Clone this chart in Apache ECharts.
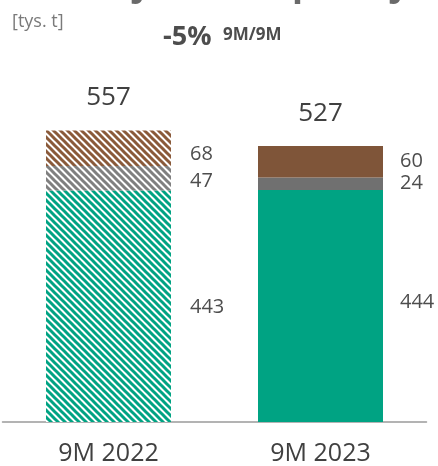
<!DOCTYPE html>
<html><head><meta charset="utf-8">
<script src="https://cdn.jsdelivr.net/npm/echarts@6/dist/echarts.min.js"></script>
<style>html,body{margin:0;padding:0;background:#fff}#c{width:438px;height:466px}</style>
</head><body><div id="c"></div>
<script>
const categories = ['9M 2022', '9M 2023'];
const mainVals = [443, 444];
const midVals = [47, 24];
const topVals = [68, 60];
const totals = [557, 527];
const unitLabel = '[tys. t]';
const changeText = '-5%';
const changeSub = '9M/9M';

function hatch(color) {
  const n = 7;
  const c = document.createElement('canvas');
  c.width = n; c.height = n;
  const g = c.getContext('2d');
  g.fillStyle = '#fff'; g.fillRect(0, 0, n, n);
  g.strokeStyle = color; g.lineWidth = 3;
  g.beginPath();
  g.moveTo(-2, -2); g.lineTo(n + 2, n + 2);
  g.moveTo(-2 - n, -2); g.lineTo(2, n + 2);
  g.moveTo(n - 2, -2); g.lineTo(2 * n + 2, n + 2);
  g.stroke();
  return { image: c, repeat: 'repeat' };
}
const GREEN = '#00a383', GRAY = '#707070', BROWN = '#7f5539';
const font = '"Open Sans", sans-serif';
const lbl = { show: true, position: 'right', color: '#4d4d4d', fontSize: 20, fontFamily: font };

function items(vals, hatchCol, solidCol, offs) {
  return vals.map((v, i) => ({
    value: v,
    itemStyle: { color: i === 0 ? hatch(hatchCol) : solidCol },
    label: { offset: offs[i], distance: i === 0 ? 19 : 17 }
  }));
}

const chart = echarts.init(document.getElementById('c'), null, { renderer: 'canvas' });
chart.setOption({
  animation: false,
  grid: { left: 2.5, right: 11.5, top: 108.5, bottom: 44 },
  xAxis: {
    type: 'category', data: categories,
    axisLine: { lineStyle: { color: '#9a9a9a', width: 1.5 } },
    axisTick: { show: false },
    axisLabel: { color: '#404040', fontSize: 25, fontFamily: font, margin: 19 }
  },
  yAxis: { type: 'value', min: 0, max: 600, show: false, splitLine: { show: false } },
  series: [
    { type: 'bar', stack: 's', barWidth: 125, data: items(mainVals, '#00a383', GREEN, [[0, 1], [0, -4]]), label: lbl },
    { type: 'bar', stack: 's', data: items(midVals, '#808080', GRAY, [[0, 3], [0, 0]]), label: lbl },
    { type: 'bar', stack: 's', data: items(topVals, '#8a5a3a', BROWN, [[0, 6], [0, 0]]), label: lbl },
    { type: 'bar', stack: 's', data: [0, 0], itemStyle: { color: 'transparent' },
      label: { show: true, position: 'top', distance: 20, color: '#404040', fontSize: 26, fontFamily: font,
        formatter: p => String(totals[p.dataIndex]) } }
  ],
  graphic: [
    { type: 'text', left: 12, top: 13, style: { text: unitLabel, fill: '#7a7a7a', font: '18px ' + font } },
    { type: 'text', left: 163, top: 24, style: { text: changeText, fill: '#4d4d4d', font: 'bold 27px ' + font } },
    { type: 'text', left: 223, top: 27, style: { text: changeSub, fill: '#4d4d4d', font: 'bold 17px ' + font } },
    { type: 'text', x: 134, y: -15, style: { text: 'j', fill: '#6a6a6a', font: 'bold 36px ' + font, verticalAlign: 'middle' } },
    { type: 'text', x: 292, y: -15, style: { text: 'p', fill: '#6a6a6a', font: 'bold 36px ' + font, verticalAlign: 'middle' } },
    { type: 'text', x: 392, y: -15, style: { text: 'j', fill: '#6a6a6a', font: 'bold 36px ' + font, verticalAlign: 'middle' } }
  ]
});
</script></body></html>
